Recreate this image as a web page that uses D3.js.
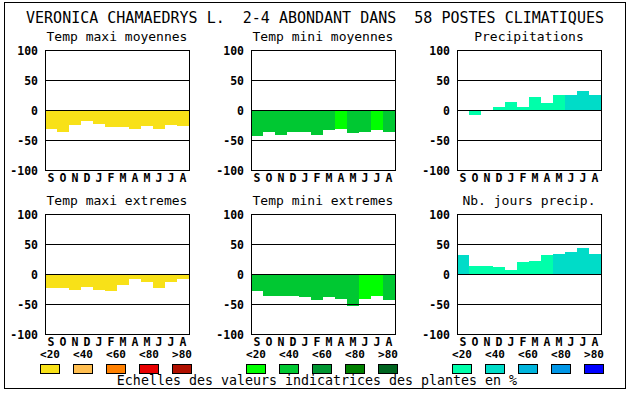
<!DOCTYPE html>
<html>
<head>
<meta charset="utf-8">
<script src="https://cdn.jsdelivr.net/npm/d3@7"></script>
<style>
  body { margin: 0; background: #fff; }
  svg { display: block; }
  text { font-family: "DejaVu Sans Mono", monospace; white-space: pre; }
</style>
</head>
<body>
<div id="chart"></div>
<script>
/** Donnees */
var months = ["S", "O", "N", "D", "J", "F", "M", "A", "M", "J", "J", "A"];
var yTicks = [100, 50, 0, -50, -100];
var legendLabels = ["<20", "<40", "<60", "<80", ">80"];

var tmaxMoy = [-32, -36, -25, -18, -23, -28, -28, -32, -27, -32, -25, -26];
var tminMoy = [-43, -36, -41, -36, -36, -41, -33, -32, -38, -36, -33, -36];
var precip = [0, -8, 0, 5, 13, 5, 22, 12, 25, 25, 32, 25];
var tmaxExt = [-24, -23, -27, -21, -27, -28, -18, -8, -13, -23, -13, -8];
var tminExt = [-28, -36, -36, -36, -38, -43, -38, -41, -53, -41, -36, -43];
var nbJours = [32, 13, 14, 11, 7, 20, 22, 31, 34, 37, 44, 34];

/** classe de couleur (0 = <20 ... 4 = >80) */
var tmaxMoyCls = [0, 0, 0, 0, 0, 0, 0, 0, 0, 0, 0, 0];
var tminMoyCls = [1, 1, 1, 1, 1, 1, 1, 0, 1, 1, 0, 1];
var precipCls = [0, 0, 0, 0, 0, 0, 0, 0, 0, 1, 1, 1];
var tmaxExtCls = [0, 0, 0, 0, 0, 0, 0, 0, 0, 0, 0, 0];
var tminExtCls = [1, 1, 1, 1, 1, 1, 1, 1, 1, 0, 0, 1];
var nbJoursCls = [1, 0, 0, 0, 0, 0, 0, 0, 1, 1, 1, 1];

var yellows = ["#f8e118", "#ffbe50", "#ff8000", "#e80000", "#b01000"];
var greens = ["#00ff00", "#00c832", "#009632", "#008000", "#006420"];
var blues = ["#00ffaa", "#00dcc8", "#00b4dc", "#0096e6", "#0000ff"];

var titre = "VERONICA CHAMAEDRYS L.  2-4 ABONDANT DANS  58 POSTES CLIMATIQUES";
var legende = "Echelles des valeurs indicatrices des plantes en %";

var w = 630;
var h = 394;
var pw = 144;
var ph = 120;
var cols = [45, 251, 457];
var rows = [50, 214];
var palettes = [yellows, greens, blues];

var panels = [
  { title: "Temp maxi moyennes", values: tmaxMoy, cls: tmaxMoyCls, col: 0, row: 0 },
  { title: "Temp mini moyennes", values: tminMoy, cls: tminMoyCls, col: 1, row: 0 },
  { title: "Precipitations", values: precip, cls: precipCls, col: 2, row: 0 },
  { title: "Temp maxi extremes", values: tmaxExt, cls: tmaxExtCls, col: 0, row: 1 },
  { title: "Temp mini extremes", values: tminExt, cls: tminExtCls, col: 1, row: 1 },
  { title: "Nb. jours precip.", values: nbJours, cls: nbJoursCls, col: 2, row: 1 }
];

var svg = d3.select("#chart").append("svg").attr("width", w).attr("height", h);

/** Le cadre */
svg.append("rect")
  .attr("x", 4.5).attr("y", 2.5)
  .attr("width", 621).attr("height", 386)
  .attr("fill", "none").attr("stroke", "#000");

svg.append("text")
  .attr("x", 315).attr("y", 23)
  .attr("text-anchor", "middle")
  .attr("font-size", 15)
  .text(titre);

var x = d3.scaleBand().domain(d3.range(12)).range([0, pw]);
var y = d3.scaleLinear().domain([-100, 100]).range([ph, 0]);

panels.forEach(function (p) {
  var g = svg.append("g")
    .attr("transform", "translate(" + cols[p.col] + "," + rows[p.row] + ")");
  var pal = palettes[p.col];

  g.append("text")
    .attr("x", pw / 2).attr("y", -9)
    .attr("text-anchor", "middle")
    .attr("font-size", 13)
    .text(p.title);

  g.selectAll("rect.bar")
    .data(p.values)
    .enter().append("rect")
    .attr("class", "bar")
    .attr("shape-rendering", "crispEdges")
    .attr("x", function (d, i) { return x(i); })
    .attr("width", x.bandwidth())
    .attr("y", function (d) { return y(Math.max(d, 0)); })
    .attr("height", function (d) { return Math.abs(y(d) - y(0)); })
    .attr("fill", function (d, i) { return pal[p.cls[i]]; });

  /** lignes horizontales */
  g.selectAll("line.grid")
    .data([50, 0, -50])
    .enter().append("line")
    .attr("x1", 0).attr("x2", pw)
    .attr("y1", function (d) { return Math.round(y(d)) + 0.5; })
    .attr("y2", function (d) { return Math.round(y(d)) + 0.5; })
    .attr("stroke", "#000");

  g.append("rect")
    .attr("x", 0.5).attr("y", 0.5)
    .attr("width", pw).attr("height", ph)
    .attr("fill", "none").attr("stroke", "#000");

  var ya = g.append("g")
    .call(d3.axisLeft(y).tickValues(yTicks).tickSize(0).tickPadding(7)
      .tickFormat(function (d) { return String(d); }));
  ya.select(".domain").remove();
  ya.selectAll("text")
    .attr("font-family", "DejaVu Sans Mono")
    .attr("font-weight", "bold")
    .attr("font-size", 11.5)
    .attr("dy", "0.36em");

  var xa = g.append("g")
    .attr("transform", "translate(0," + ph + ")")
    .call(d3.axisBottom(x).tickSize(0).tickPadding(4)
      .tickFormat(function (i) { return months[i]; }));
  xa.select(".domain").remove();
  xa.selectAll("text")
    .attr("font-family", "DejaVu Sans Mono")
    .attr("font-weight", "bold")
    .attr("font-size", 11.5);

  /** legende des couleurs sous la deuxieme ligne */
  if (p.row === 1) {
    var lx = d3.scalePoint().domain(legendLabels).range([5, 137]);
    var lg = g.append("g").attr("transform", "translate(0," + (ph + 20) + ")");
    lg.selectAll("text")
      .data(legendLabels)
      .enter().append("text")
      .attr("x", function (d) { return lx(d); })
      .attr("y", 0)
      .attr("dy", "0.36em")
      .attr("text-anchor", "middle")
      .attr("font-weight", "bold")
      .attr("font-size", 11)
      .text(function (d) { return d; });
    lg.selectAll("rect")
      .data(legendLabels)
      .enter().append("rect")
      .attr("x", function (d) { return Math.round(lx(d) - 10) + 0.5; })
      .attr("y", 10.5)
      .attr("width", 19).attr("height", 9)
      .attr("fill", function (d, i) { return pal[i]; })
      .attr("stroke", "#000");
  }
});

svg.append("text")
  .attr("x", 317).attr("y", 385)
  .attr("text-anchor", "middle")
  .attr("font-size", 13.3)
  .text(legende);
</script>
</body>
</html>
